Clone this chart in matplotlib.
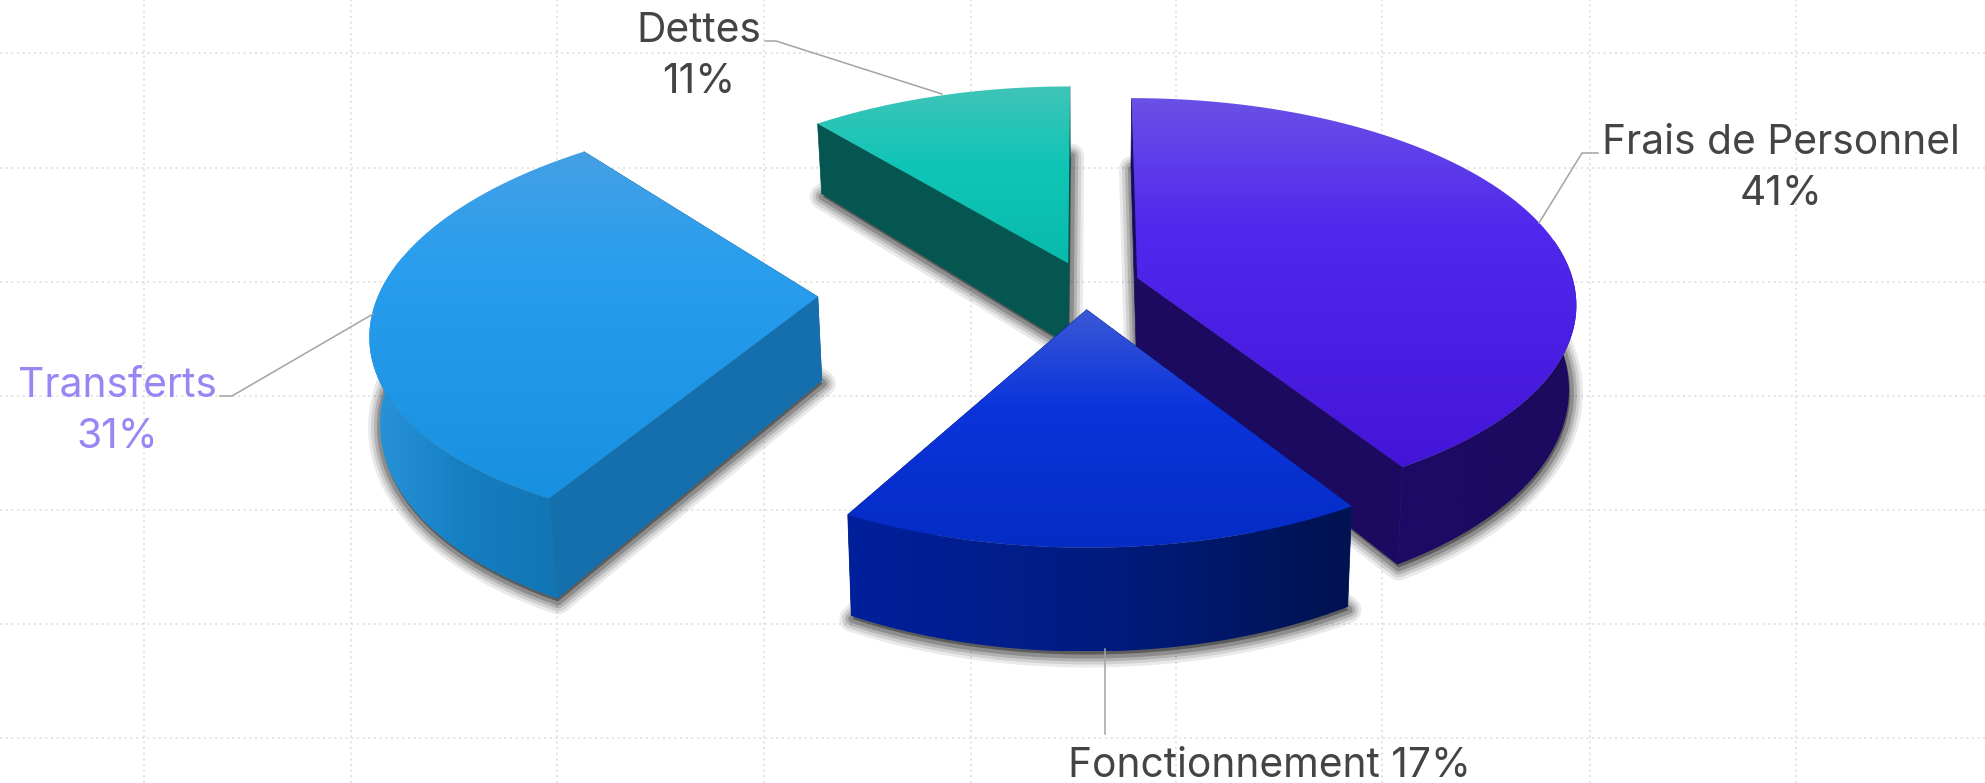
#!/usr/bin/env python3
"""Depenses par nature - camembert 3D eclate"""
import numpy as np
import matplotlib
matplotlib.use("Agg")
import matplotlib.pyplot as plt
from matplotlib.patches import Polygon
from matplotlib.colors import to_rgb

# data
categories = ["Frais de Personnel", "Fonctionnement", "Transferts", "Dettes"]
values = [41, 17, 31, 11]

W, H = 1985, 783
FONT = "Inter"
FS = 29.3

# pie geometry, pixels
CX, CY = 1085, 285
RX, RY = 437, 203
PERSP = 0.12
DEPTH, DEPTH_SLOPE, DEPTH_Y0 = 81, 0.08, 262
SHRINK = 0.985
explode = [0.125, 0.12, 0.61, 0.115]

top_stops = [
    [(0, "#6A50E6"), (0.35, "#5028EE"), (1, "#4415D8")],
    [(0, "#3A58D6"), (0.4, "#0B34DC"), (1, "#052CC4")],
    [(0, "#45A0E4"), (0.3, "#2B9EEE"), (1, "#1890E0")],
    [(0, "#3FC4B8"), (0.45, "#0FC6B6"), (1, "#08BBAB")],
]
rim_stops = [
    [(0, "#1D0A66"), (1, "#1C0A5E")],
    [(0, "#00209C"), (0.5, "#001C80"), (1, "#00124F")],
    [(0, "#2A95DC"), (0.5, "#157FC2"), (1, "#1275B4")],
    [(0, "#0A5E58"), (1, "#004F4A")],
]
edge_colors = ["#1C0A60", "#001C80", "#146FAC", "#055650"]
draw_order = [3, 0, 2, 1]

h_grid = [53, 168, 282, 396, 510, 624, 738]
v_grid = [144, 351, 557, 764, 971, 1176, 1382, 1590, 1796]


def project(u, v):
    return np.column_stack([CX + RX * u / (1 + PERSP * v),
                            CY - RY * v / (1 + PERSP * v)])


def extrude(pts):
    x = CX + (pts[:, 0] - CX) * SHRINK
    y = pts[:, 1] + DEPTH + (pts[:, 1] - DEPTH_Y0) * DEPTH_SLOPE
    return np.column_stack([x, y])


def gradient_fill(ax, poly, stops, vertical, zorder):
    xmin, ymin = poly.min(axis=0)
    xmax, ymax = poly.max(axis=0)
    pos = [s[0] for s in stops]
    cols = np.array([to_rgb(s[1]) for s in stops])
    f = np.linspace(0, 1, 256)
    ramp = np.column_stack([np.interp(f, pos, cols[:, i]) for i in range(3)])
    img = ramp[:, None, :] if vertical else ramp[None, :, :]
    im = ax.imshow(img, extent=(xmin, xmax, ymax, ymin), aspect="auto",
                   interpolation="bilinear", zorder=zorder)
    patch = Polygon(poly, closed=True, transform=ax.transData, fc="none", ec="none")
    ax.add_patch(patch)
    im.set_clip_path(patch)


fig = plt.figure(figsize=(W / 100, H / 100), dpi=100)
ax = fig.add_axes([0, 0, 1, 1])
ax.axis("off")

for y in h_grid:
    ax.axhline(y, color="#DEDEDE", lw=1.2, ls=(0, (1.2, 2.2)), zorder=0)
for x in v_grid:
    ax.axvline(x, color="#DEDEDE", lw=1.2, ls=(0, (1.2, 2.2)), zorder=0)

# slice angles, clockwise from 12 o'clock
fracs = np.array(values) / sum(values) * 360
ends = 90 - np.cumsum(fracs)
starts = ends + fracs
mids = np.radians((starts + ends) / 2)

z = 1
for i in draw_order:
    off_u = explode[i] * np.cos(mids[i])
    off_v = explode[i] * np.sin(mids[i])
    apex = project(np.array([off_u]), np.array([off_v]))
    t = np.radians(np.linspace(starts[i], ends[i], 160))
    arc = project(off_u + np.cos(t), off_v + np.sin(t))
    top = np.vstack([apex, arc])
    bottom = extrude(top)

    # blurred shadow under the bottom face
    for lw, a in [(26, 0.10), (20, 0.14), (14, 0.20), (8, 0.30)]:
        shadow = Polygon(bottom + [1, 3], closed=True, fc="#3A3A3A", ec="#3A3A3A",
                         lw=lw * 0.72, alpha=a, joinstyle="round", zorder=z)
        ax.add_patch(shadow)
    z += 1

    # radial walls
    for k in (0, -1):
        quad = np.vstack([apex, arc[[k]], extrude(arc[[k]]), extrude(apex)])
        ax.add_patch(Polygon(quad, closed=True, fc=edge_colors[i], ec=edge_colors[i], lw=0.5, zorder=z))
    z += 1

    # outer wall, only the part facing us
    front = np.sin(t) < 0.2
    if front.any():
        rim = arc[front]
        gradient_fill(ax, np.vstack([rim, extrude(rim)[::-1]]), rim_stops[i], False, z)
    z += 1

    gradient_fill(ax, top, top_stops[i], True, z)
    z += 1

# leader lines
leaders = {
    "Dettes": ([765, 776, 942], [41, 41, 94]),
    "Frais de Personnel": ([1598, 1582, 1539], [153, 153, 223]),
    "Transferts": ([220, 232, 373], [396, 396, 314]),
    "Fonctionnement": ([1105, 1105], [649, 734]),
}
for xs, ys in leaders.values():
    ax.plot(xs, ys, color="#A3A3A3", lw=1.1, zorder=z)

# labels
TXT = "#444444"
ax.text(699, 42, categories[3], color=TXT, family=FONT, fontsize=FS, ha="center", va="baseline", zorder=z)
ax.text(699, 93, f"{values[3]}%", color=TXT, family=FONT, fontsize=FS, ha="center", va="baseline", zorder=z)
ax.text(1781, 154, categories[0], color=TXT, family=FONT, fontsize=FS, ha="center", va="baseline", zorder=z)
ax.text(1781, 205, f"{values[0]}%", color=TXT, family=FONT, fontsize=FS, ha="center", va="baseline", zorder=z)
ax.text(117, 397, categories[2], color="#9A85F5", family=FONT, fontsize=FS, ha="center", va="baseline", zorder=z)
ax.text(117, 448, f"{values[2]}%", color="#9A85F5", family=FONT, fontsize=FS, ha="center", va="baseline", zorder=z)
ax.text(1270, 777, f"{categories[1]} {values[1]}%", color=TXT, family=FONT, fontsize=FS, ha="center", va="baseline", zorder=z)

ax.set_xlim(0, W)
ax.set_ylim(H, 0)
fig.savefig("out.png", dpi=100, facecolor="white")
